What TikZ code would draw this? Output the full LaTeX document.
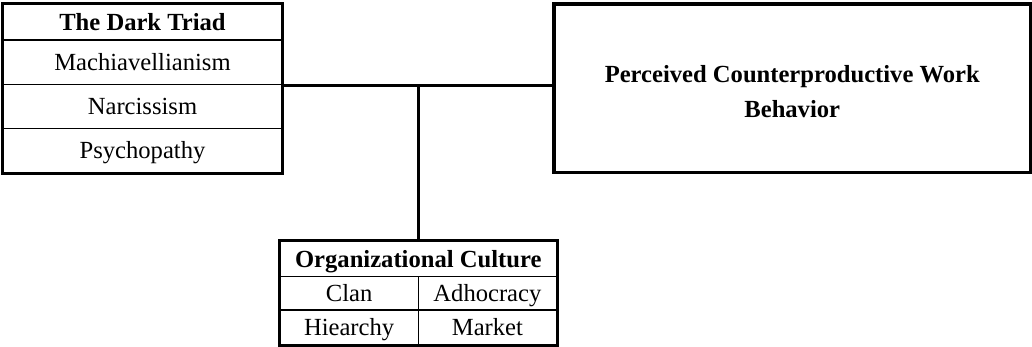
\documentclass[tikz,border=0pt]{standalone}
\usepackage{fontspec}
\setmainfont{Liberation Serif}

\begin{document}
\begin{tikzpicture}[x=0.025cm,y=-0.025cm,
    cell/.style={draw,line width=0.9pt,inner sep=0pt,text height=14pt,text depth=2pt,
      font=\fontsize{17.5}{21}\selectfont},
    head/.style={cell,font=\fontsize{17.5}{21}\selectfont\bfseries},
    frame/.style={line width=2.2pt}]
  \useasboundingbox (0,0) rectangle (1032,347);
  % the dark triad
  \node[head,minimum width=6.975cm,minimum height=0.9cm] (triad) at (142.5,22) {The Dark Triad};
  \node[cell,minimum width=6.975cm,minimum height=1.1125cm] (mach) at (142.5,62.25) {Machiavellianism};
  \node[cell,minimum width=6.975cm,minimum height=1.1cm] (narc) at (142.5,106.5) {Narcissism};
  \node[cell,minimum width=6.975cm,minimum height=1.1cm] (psych) at (142.5,150.5) {Psychopathy};
  \draw[frame] (triad.north west) rectangle (psych.south east);
  % outcome
  \node[draw,frame,minimum width=11.91cm,minimum height=4.21cm,align=center,
    font=\fontsize{17.5}{25}\selectfont\bfseries] (cwb) at (792.25,88.25)
    {\rule{0pt}{17pt}Perceived Counterproductive Work\\Behavior};
  % organizational culture
  \node[head,minimum width=6.91cm,minimum height=0.89cm] (culture) at (418.25,258.9) {Organizational Culture};
  \node[cell,minimum width=3.455cm,minimum height=0.83cm] (clan) at (349.1,293.4) {Clan};
  \node[cell,minimum width=3.455cm,minimum height=0.83cm] (adhoc) at (487.4,293.4) {Adhocracy};
  \node[cell,minimum width=3.455cm,minimum height=0.875cm] (hier) at (349.1,327.5) {Hiearchy};
  \node[cell,minimum width=3.455cm,minimum height=0.875cm] (market) at (487.4,327.5) {Market};
  \draw[frame] (culture.north west) rectangle (market.south east);
  % connectors
  \coordinate (join) at (culture.north |- mach.south);
  \draw[frame] (mach.south east) -- (join) -- (cwb.west |- join);
  \draw[frame] (join) -- (culture.north);
\end{tikzpicture}
\end{document}
